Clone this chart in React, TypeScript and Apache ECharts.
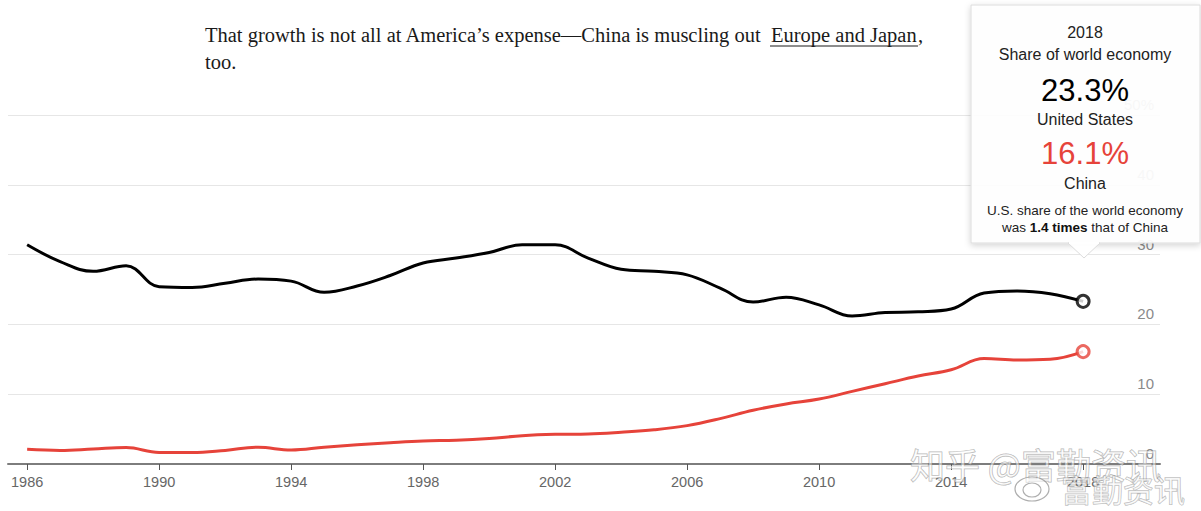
import React, { useEffect, useRef } from "react";
import * as echarts from "echarts";

const years = [1986,1987,1988,1989,1990,1991,1992,1993,1994,1995,1996,1997,1998,1999,2000,2001,2002,2003,2004,2005,2006,2007,2008,2009,2010,2011,2012,2013,2014,2015,2016,2017,2018];
const usShare = [31.4,29.0,27.6,28.4,25.4,25.3,25.9,26.5,26.2,24.6,25.5,27.0,28.8,29.5,30.3,31.4,31.4,29.5,27.9,27.6,27.1,25.2,23.2,23.9,22.8,21.2,21.7,21.8,22.2,24.5,24.8,24.4,23.3];
const chinaShare = [2.1,1.95,2.15,2.35,1.65,1.65,1.95,2.4,2.0,2.4,2.75,3.05,3.3,3.4,3.65,4.05,4.25,4.3,4.55,4.9,5.5,6.5,7.7,8.6,9.3,10.4,11.5,12.6,13.5,15.1,14.9,15.0,16.1];
const xTicks = [1986,1990,1994,1998,2002,2006,2010,2014,2018];
const yTicks = [0,10,20,30,40,50];

const headlineA = "That growth is not all at America\u2019s expense\u2014China is muscling out ";
const headlineLink = "Europe and Japan";
const headlineB = "too.";

const SANS = "'Liberation Sans', Arial, Helvetica, sans-serif";
const SERIF = "'Liberation Serif', 'Times New Roman', serif";
const RED = "#e6433a";

export default function App() {
  const ref = useRef<HTMLDivElement>(null);
  useEffect(() => {
    if (!ref.current) return;
    const chart = echarts.init(ref.current, undefined, { renderer: "svg" });
    const last = years.length - 1;
    const us = years.map((y, i) => [y, usShare[i]]);
    const cn = years.map((y, i) => [y, chinaShare[i]]);
    const usLast = usShare[last];
    const cnLast = chinaShare[last];
    const ratio = (usLast / cnLast).toFixed(1);
    const cx = 1085;
    const TZ = 200;
    const tip = (o: any) => ({ ...o, z: TZ });
    const wm = (o: any) => ({ ...o, z: 150 });
    const HF = `20.5px ${SERIF}`;
    chart.setOption({
      animation: false,
      backgroundColor: "#fff",
      grid: { left: 8, right: 41, top: 115, bottom: 47, containLabel: false },
      xAxis: {
        type: "value",
        min: 1985.42,
        max: 2020.33,
        axisLine: { show: true, lineStyle: { color: "#7d7d7d", width: 2 } },
        axisTick: { show: true, customValues: xTicks, length: 6, lineStyle: { color: "#555", width: 1 } },
        axisLabel: { customValues: xTicks, color: "#666", fontSize: 14.5, fontFamily: SANS, margin: 10, formatter: (v: number) => String(v) },
        splitLine: { show: false },
      },
      yAxis: {
        type: "value",
        position: "right",
        min: 0,
        max: 50,
        interval: 10,
        axisLine: { show: false },
        axisTick: { show: false },
        splitLine: { show: true, lineStyle: { color: "#e6e6e6", width: 1 } },
        axisLabel: {
          inside: true,
          margin: 6,
          color: "#8a8a8a",
          fontSize: 15,
          fontFamily: SANS,
          verticalAlign: "bottom",
          padding: [0, 0, 3, 0],
          formatter: (v: number) => (v === yTicks[yTicks.length - 1] ? v + "%" : String(v)),
        },
      },
      series: [
        { type: "line", name: "United States", data: us, smooth: 0.4, symbol: "none", lineStyle: { color: "#000", width: 3 }, z: 3 },
        { type: "line", name: "China", data: cn, smooth: 0.4, symbol: "none", lineStyle: { color: RED, width: 3 }, z: 3 },
        { type: "scatter", data: [[years[last], usLast]], symbol: "circle", symbolSize: 12, itemStyle: { color: "#fff", borderColor: "#000", borderWidth: 3 }, z: 4 },
        { type: "scatter", data: [[years[last], cnLast]], symbol: "circle", symbolSize: 12, itemStyle: { color: "#fff", borderColor: RED, borderWidth: 3 }, z: 4 },
      ],
      graphic: [
        { type: "text", x: 205, y: 35, style: { text: headlineA, font: HF, fill: "#1a1a1a", verticalAlign: "middle" } },
        { type: "text", x: 771, y: 35, style: { text: headlineLink, font: HF, fill: "#1a1a1a", verticalAlign: "middle" } },
        { type: "line", shape: { x1: 770, y1: 46, x2: 918, y2: 46 }, style: { stroke: "#1a1a1a", lineWidth: 1 } },
        { type: "text", x: 918, y: 35, style: { text: ",", font: HF, fill: "#1a1a1a", verticalAlign: "middle" } },
        { type: "text", x: 205, y: 62, style: { text: headlineB, font: HF, fill: "#1a1a1a", verticalAlign: "middle" } },
        // tooltip box
        tip({ type: "rect", shape: { x: 971, y: 5, width: 229, height: 238 }, style: { fill: "rgba(255,255,255,0.93)", stroke: "#dcdcdc", lineWidth: 1, shadowBlur: 6, shadowColor: "rgba(0,0,0,0.18)", shadowOffsetY: 2 } }),
        tip({ type: "polygon", shape: { points: [[1068, 243], [1084, 258], [1100, 243]] }, style: { fill: "rgba(255,255,255,0.95)", stroke: "#dcdcdc", lineWidth: 1 } }),
        tip({ type: "line", shape: { x1: 1069, y1: 243, x2: 1099, y2: 243 }, style: { stroke: "#fff", lineWidth: 2 } }),
        tip({ type: "text", x: cx, y: 32, style: { text: String(years[last]), font: `16px ${SANS}`, fill: "#222", align: "center", verticalAlign: "middle" } }),
        tip({ type: "text", x: cx, y: 54, style: { text: "Share of world economy", font: `16px ${SANS}`, fill: "#222", align: "center", verticalAlign: "middle" } }),
        tip({ type: "text", x: cx, y: 90, style: { text: usLast.toFixed(1) + "%", font: `31px ${SANS}`, fill: "#000", align: "center", verticalAlign: "middle" } }),
        tip({ type: "text", x: cx, y: 119, style: { text: "United States", font: `16px ${SANS}`, fill: "#222", align: "center", verticalAlign: "middle" } }),
        tip({ type: "text", x: cx, y: 153, style: { text: cnLast.toFixed(1) + "%", font: `31px ${SANS}`, fill: RED, align: "center", verticalAlign: "middle" } }),
        tip({ type: "text", x: cx, y: 183, style: { text: "China", font: `16px ${SANS}`, fill: "#222", align: "center", verticalAlign: "middle" } }),
        tip({ type: "text", x: cx, y: 210, style: { text: "U.S. share of the world economy", font: `13.5px ${SANS}`, fill: "#222", align: "center", verticalAlign: "middle" } }),
        tip({
          type: "text", x: cx, y: 227,
          style: {
            text: `{n|was }{b|${ratio} times}{n| that of China}`,
            align: "center", verticalAlign: "middle",
            rich: {
              n: { fontSize: 13.5, fontFamily: SANS, fill: "#222", color: "#222" },
              b: { fontSize: 13.5, fontFamily: SANS, fontWeight: "bold", fill: "#111", color: "#111" },
            },
          },
        }),
        // watermark
        wm({ type: "text", x: 910, y: 463, style: { text: "知乎 @富勤资讯", font: `35px 'Noto Sans CJK SC', sans-serif`, fill: "rgba(255,255,255,0.55)", stroke: "rgba(110,110,110,0.55)", lineWidth: 1, verticalAlign: "middle" } }),
        wm({ type: "ellipse", shape: { cx: 1032, cy: 489, rx: 17, ry: 12 }, style: { fill: "rgba(255,255,255,0.5)", stroke: "rgba(120,120,120,0.6)", lineWidth: 1.2 } }),
        wm({ type: "ellipse", shape: { cx: 1032, cy: 490, rx: 9, ry: 7 }, style: { fill: "none", stroke: "rgba(120,120,120,0.6)", lineWidth: 1.2 } }),
        wm({ type: "text", x: 1061, y: 488, style: { text: "富勤资讯", font: `31px 'Noto Sans CJK SC', sans-serif`, fill: "rgba(255,255,255,0.55)", stroke: "rgba(120,120,120,0.55)", lineWidth: 1, verticalAlign: "middle" } }),
      ],
    });
    return () => chart.dispose();
  }, []);
  return <div ref={ref} style={{ position: "fixed", left: 0, top: 0, width: 1201, height: 511 }} />;
}
